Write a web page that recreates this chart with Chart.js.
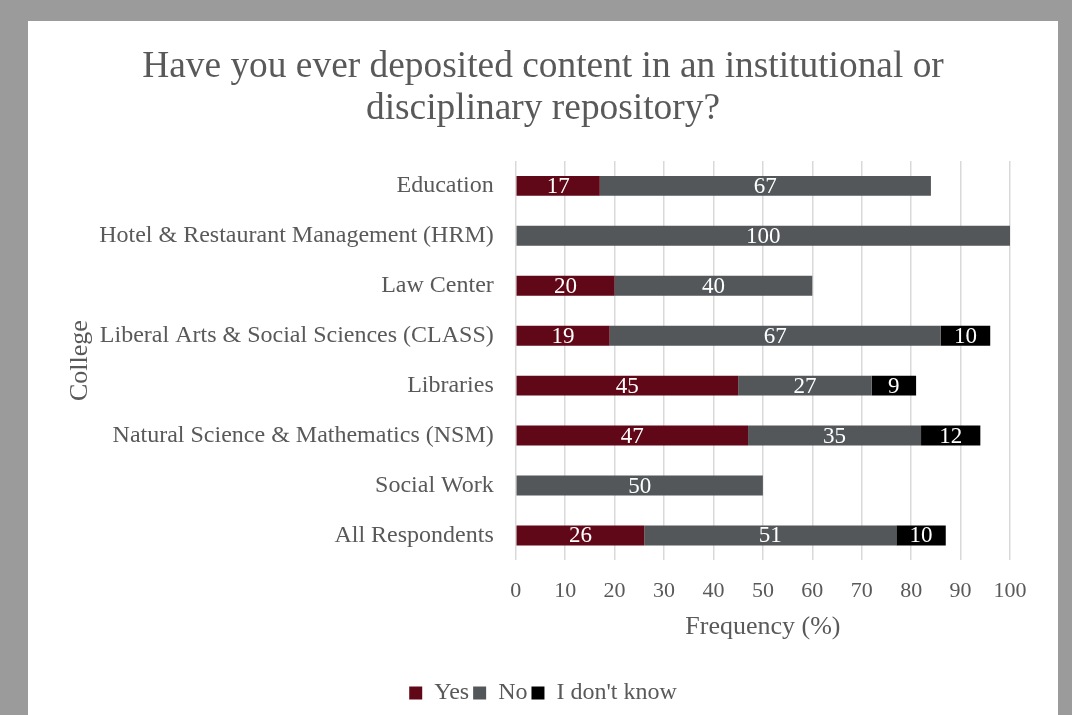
<!DOCTYPE html>
<html>
<head>
<meta charset="utf-8">
<script src="https://cdn.jsdelivr.net/npm/chart.js@4.4.0/dist/chart.umd.min.js"></script>
<style>
  html, body { margin: 0; padding: 0; background: #9b9b9b; }
  body { width: 1072px; height: 715px; overflow: hidden; position: relative; }
  #card { position: absolute; left: 28px; top: 21px; width: 1030px; height: 694px; background: #fff; }
</style>
</head>
<body>
<div id="card"><canvas id="chart" width="1030" height="694"></canvas></div>
<script>
const colleges = [
    'Education',
    'Hotel & Restaurant Management (HRM)',
    'Law Center',
    'Liberal Arts & Social Sciences (CLASS)',
    'Libraries',
    'Natural Science & Mathematics (NSM)',
    'Social Work',
    'All Respondents'
];
const yesValues = [17, 0, 20, 19, 45, 47, 0, 26];
const noValues = [67, 100, 40, 67, 27, 35, 50, 51];
const dontKnowValues = [0, 0, 0, 10, 9, 12, 0, 10];
const xTicks = [0, 10, 20, 30, 40, 50, 60, 70, 80, 90, 100];

const textColor = '#595959';
const serif = '"Liberation Serif", "Times New Roman", serif';

// write the value in the middle of each segment
const barLabels = {
    id: 'barLabels',
    afterDatasetsDraw(chart) {
        const ctx = chart.ctx;
        ctx.save();
        ctx.font = '23px ' + serif;
        ctx.fillStyle = '#ffffff';
        ctx.textAlign = 'center';
        ctx.textBaseline = 'middle';
        chart.data.datasets.forEach((ds, i) => {
            const meta = chart.getDatasetMeta(i);
            meta.data.forEach((bar, j) => {
                const v = ds.data[j];
                if (!v) return;
                ctx.fillText(String(v), (bar.x + bar.base) / 2, bar.y + 1);
            });
        });
        ctx.restore();
    }
};

new Chart(document.getElementById('chart'), {
    type: 'bar',
    data: {
        labels: colleges,
        datasets: [
            { label: 'Yes', data: yesValues, backgroundColor: '#600818' },
            { label: 'No', data: noValues, backgroundColor: '#53575a' },
            { label: "I don't know", data: dontKnowValues, backgroundColor: '#000000' }
        ]
    },
    options: {
        indexAxis: 'y',
        responsive: false,
        animation: false,
        datasets: {
            bar: { categoryPercentage: 1, barPercentage: 0.4 }
        },
        layout: { padding: { left: 25, right: 25, top: 4, bottom: 0 } },
        scales: {
            x: {
                stacked: true,
                min: 0,
                max: 100,
                afterBuildTicks: axis => { axis.ticks = xTicks.map(v => ({ value: v })); },
                // keep extra room on the right so the title stays centred on the card
                afterFit: axis => { axis.paddingRight = 48; },
                grid: { color: '#d9d9d9', lineWidth: 1.5, drawTicks: false },
                border: { display: false },
                ticks: { color: textColor, font: { family: serif, size: 22 }, padding: 18 },
                title: {
                    display: true,
                    text: 'Frequency (%)',
                    color: textColor,
                    font: { family: serif, size: 26 },
                    padding: { top: -11, bottom: 34 }
                }
            },
            y: {
                stacked: true,
                grid: { display: false },
                border: { display: false },
                ticks: { color: textColor, font: { family: serif, size: 24 }, padding: 14 },
                title: {
                    display: true,
                    text: 'College',
                    color: textColor,
                    font: { family: serif, size: 26 },
                    padding: { top: 12, bottom: -11 }
                }
            }
        },
        plugins: {
            title: {
                display: true,
                text: ['Have you ever deposited content in an institutional or', 'disciplinary repository?'],
                color: textColor,
                font: { family: serif, size: 37.4, weight: 'normal', lineHeight: 1.135 },
                padding: { top: 21, bottom: 30 }
            },
            legend: {
                position: 'bottom',
                labels: {
                    color: textColor,
                    font: { family: serif, size: 24 },
                    boxWidth: 13,
                    boxHeight: 13,
                    padding: 4
                }
            },
            tooltip: { enabled: false }
        }
    },
    plugins: [barLabels]
});
</script>
</body>
</html>
